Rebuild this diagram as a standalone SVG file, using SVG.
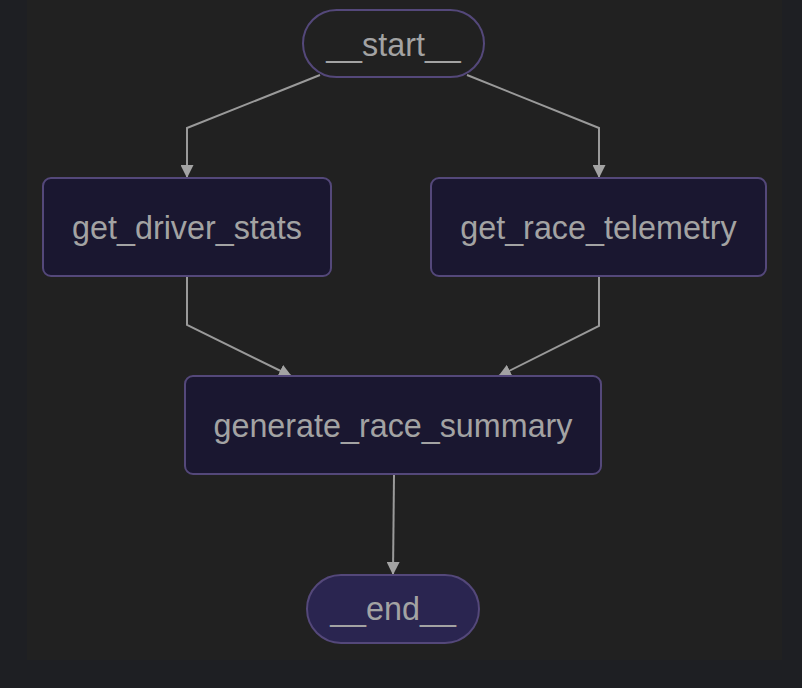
<svg xmlns="http://www.w3.org/2000/svg" width="802" height="688" viewBox="0 0 802 688">
<defs>
<style>
.node rect{fill:#1a1730;stroke:#54487a;stroke-width:2}
.term rect{stroke:#54487a;stroke-width:2}
text{font-family:"Liberation Sans",Arial,sans-serif;font-size:32.3px;fill:#a3a3a3;text-anchor:middle}
.edge{fill:none;stroke:#9a9a9a;stroke-width:2}
</style>
<marker id="arr" viewBox="0 0 13 13" refX="12" refY="6.5" markerWidth="13" markerHeight="13" markerUnits="userSpaceOnUse" orient="auto">
<path d="M0,0 L13,6.5 L0,13 z" fill="#a3a3a3"/>
</marker>
</defs>
<rect x="0" y="0" width="802" height="688" fill="#1e1f23"/>
<rect x="27" y="0" width="755" height="660" fill="#212121"/>
<g id="connectors">
<path class="edge" d="M320,75 L187,128 L187,177" marker-end="url(#arr)"/>
<path class="edge" d="M467,75 L599,128 L599,177" marker-end="url(#arr)"/>
<path class="edge" d="M187,277 L187,325 L291,376" marker-end="url(#arr)"/>
<path class="edge" d="M599,277 L599,326 L499,376" marker-end="url(#arr)"/>
<path class="edge" d="M394,475 L393,574" marker-end="url(#arr)"/>
</g>
<g id="start" class="term">
<rect x="303" y="10" width="181" height="67" rx="33.5" fill="#212121"/>
<text x="393.5" y="56">__start__</text>
</g>
<g id="get_driver_stats" class="node">
<rect x="43" y="178" width="288" height="98" rx="8"/>
<text x="187" y="239">get_driver_stats</text>
</g>
<g id="get_race_telemetry" class="node">
<rect x="431" y="178" width="335" height="98" rx="8"/>
<text x="598.5" y="239">get_race_telemetry</text>
</g>
<g id="generate_race_summary" class="node">
<rect x="185" y="376" width="416" height="98" rx="8"/>
<text x="393" y="437">generate_race_summary</text>
</g>
<g id="end" class="term">
<rect x="307" y="575" width="172" height="68" rx="34" fill="#2a2550"/>
<text x="393" y="620">__end__</text>
</g>
</svg>
